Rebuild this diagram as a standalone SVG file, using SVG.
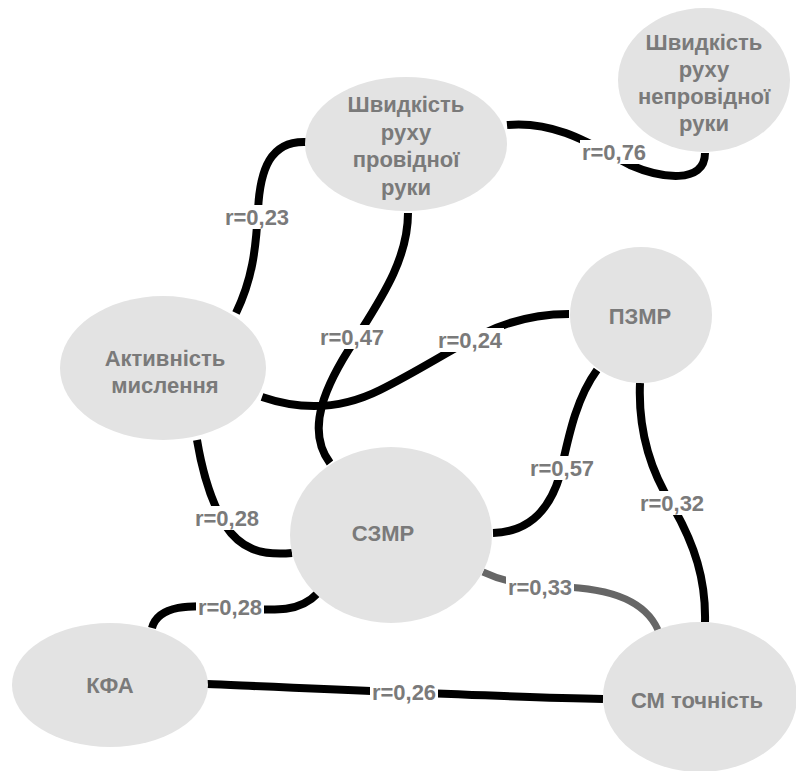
<svg xmlns="http://www.w3.org/2000/svg" width="796" height="771" viewBox="0 0 796 771">
<style>
.bg{fill:#ffffff}
.node ellipse{fill:#e3e3e3}
.node text,.lbl text{font-family:"Liberation Sans",Arial,sans-serif;font-weight:bold;fill:#7a7a7a;text-anchor:middle;dominant-baseline:central}
.node text{font-size:22px}
.lbl text{font-size:22px}
.lbl rect{fill:#ffffff}
.edge{fill:none;stroke:#000;stroke-width:8}
.edge.gray{stroke:#666;stroke-width:7}
</style>
<rect class="bg" x="0" y="0" width="796" height="771"/>
<g id="connectors">
<path class="edge" d="M507,125 C560,120 600,150 630,165 C660,178 705,185 705,153"/>
<path class="edge" d="M307,142 C270,140 260,170 258,210 C256,250 252,280 236,313"/>
<path class="edge" d="M408,213 C408,260 380,300 355,340 C325,385 305,430 330,463"/>
<path class="edge" d="M262,397 C300,410 340,410 380,390 C420,370 450,350 480,335 C510,320 540,314 569,314"/>
<path class="edge" d="M197,440 C202,470 210,500 225,525 C240,548 260,556 292,553"/>
<path class="edge" d="M318,593 C300,612 280,611 230,608 C190,604 158,605 152,628"/>
<path class="edge" d="M207,684 C300,688 500,697 603,699"/>
<path class="edge" d="M597,370 C575,400 568,440 560,475 C548,515 525,532 493,533"/>
<path class="edge" d="M640,383 C638,430 650,470 672,505 C695,545 706,580 705,622"/>
<path class="edge gray" d="M483,572 C500,580 520,586 560,587 C610,588 645,600 658,630"/>
<g class="lbl"><rect x="580" y="140" width="68" height="24"/><text x="614" y="152">r=0,76</text></g>
<g class="lbl"><rect x="223" y="205" width="68" height="24"/><text x="257" y="217">r=0,23</text></g>
<g class="lbl"><rect x="318" y="325" width="68" height="24"/><text x="352" y="337">r=0,47</text></g>
<g class="lbl"><rect x="436" y="328" width="68" height="24"/><text x="470" y="340">r=0,24</text></g>
<g class="lbl"><rect x="193" y="506" width="68" height="24"/><text x="227" y="518">r=0,28</text></g>
<g class="lbl"><rect x="196" y="595" width="68" height="24"/><text x="230" y="607">r=0,28</text></g>
<g class="lbl"><rect x="370" y="680" width="68" height="24"/><text x="404" y="692">r=0,26</text></g>
<g class="lbl"><rect x="528" y="456" width="68" height="24"/><text x="562" y="468">r=0,57</text></g>
<g class="lbl"><rect x="638" y="491" width="68" height="24"/><text x="672" y="503">r=0,32</text></g>
<g class="lbl"><rect x="506" y="575" width="68" height="24"/><text x="540" y="587">r=0,33</text></g>
</g>
<g id="n-provid" class="node"><ellipse cx="406" cy="144" rx="101" ry="67"/>
<text x="406" y="104">Швидкість</text><text x="406" y="132">руху</text><text x="406" y="159">провідної</text><text x="406" y="187">руки</text></g>
<g id="n-neprovid" class="node"><ellipse cx="704" cy="80" rx="86" ry="72"/>
<text x="704" y="42">Швидкість</text><text x="704" y="69">руху</text><text x="704" y="96">непровідної</text><text x="704" y="123">руки</text></g>
<g id="n-aktyvnist" class="node"><ellipse cx="163" cy="368" rx="103" ry="72"/>
<text x="165" y="358">Активність</text><text x="165" y="385">мислення</text></g>
<g id="n-pzmr" class="node"><ellipse cx="641" cy="315" rx="71" ry="68"/>
<text x="640" y="316">ПЗМР</text></g>
<g id="n-szmr" class="node"><ellipse cx="391" cy="535" rx="101" ry="88"/>
<text x="383" y="533">СЗМР</text></g>
<g id="n-kfa" class="node"><ellipse cx="110" cy="685" rx="98" ry="62"/>
<text x="110" y="685">КФА</text></g>
<g id="n-sm" class="node"><ellipse cx="700" cy="697" rx="97" ry="75"/>
<text x="697" y="700">СМ точність</text></g>
</svg>
